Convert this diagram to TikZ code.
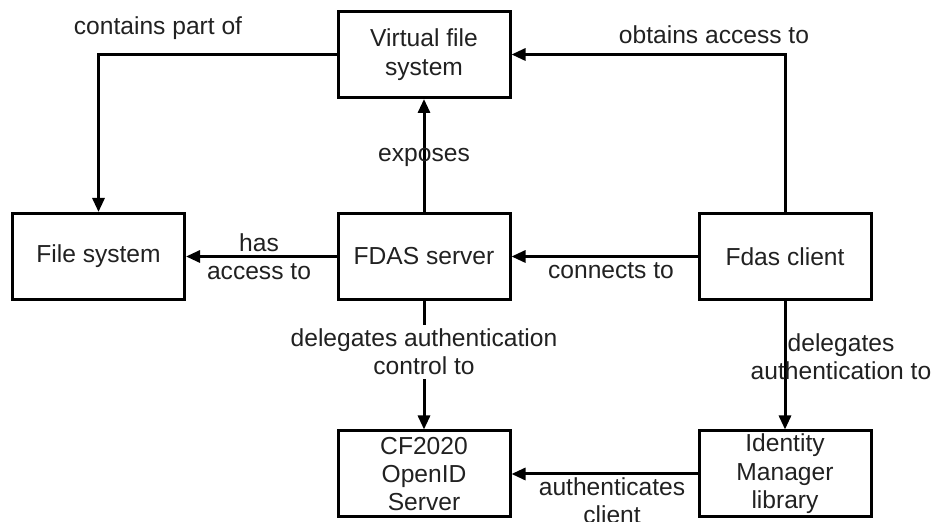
\documentclass[tikz,border=0pt]{standalone}
\usepackage{fontspec}
\setmainfont{Liberation Sans}
\usetikzlibrary{arrows.meta}
\definecolor{ink}{gray}{0.13}
\begin{document}
\begin{tikzpicture}[x=0.5pt,y=-0.5pt,
  every node/.style={font=\fontsize{12.3}{14.2}\selectfont, text=ink},
  box/.style={draw=black, line width=1.5pt, minimum width=86pt, minimum height=43pt,
              align=center, inner sep=0pt},
  lbl/.style={align=center, inner sep=0pt},
  conn/.style={draw=black, line width=1.5pt,
               -{Triangle[length=7pt,width=6pt]}}]
  \useasboundingbox (0,0) rectangle (933,522);

  % boxes
  \node[box] (vfs) at (424,54.5)  {Virtual file\\system};
  \node[box] (fs)  at (98.5,256.5) {File system};
  \node[box] (srv) at (424,256.5) {FDAS server};
  \node[box] (cli) at (785,256.5) {Fdas client};
  \node[box] (cf)  at (424,474)   {CF2020\\OpenID\\Server};
  \node[box] (idm) at (785,474)   {Identity\\Manager\\library};

  % connectors
  \draw[conn] (vfs.west) -| (fs.north);
  \draw[conn] (srv.north) -- (vfs.south);
  \draw[conn] (cli.north) |- (vfs.east);
  \draw[conn] (srv.west) -- (fs.east);
  \draw[conn] (cli.west) -- (srv.east);
  \draw[conn] (srv.south) -- (cf.north);
  \draw[conn] (cli.south) -- (idm.north);
  \draw[conn] (idm.west) -- (cf.east);

  % connector labels
  \node[lbl] (l1) at (158,28)  {contains part of};
  \node[lbl] (l2) at (714,35)  {obtains access to};
  \node[lbl] (l3) at (424,157) {exposes};
  \node[lbl] (l4) at (259,257) {has\\[0pt]access to};
  \node[lbl] (l5) at (611,271) {connects to};
  \node[lbl, fill=white, inner sep=2pt] (l6) at (424,352) {delegates authentication\\control to};
  \node[lbl] (l7) at (841,357) {delegates\\authentication to};
  \node[lbl] (l8) at (612,501) {authenticates\\client};
\end{tikzpicture}
\end{document}
